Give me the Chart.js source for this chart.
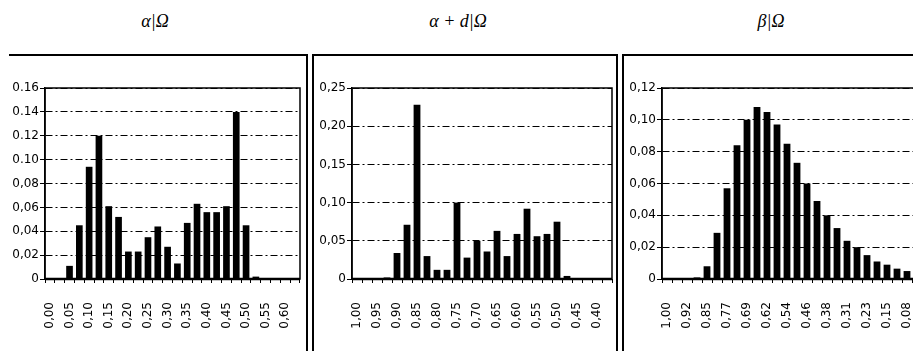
<!DOCTYPE html>
<html>
<head>
<meta charset="utf-8">
<script src="https://cdn.jsdelivr.net/npm/chart.js@4.4.1/dist/chart.umd.min.js"></script>
<style>
  body { margin: 0; width: 913px; height: 351px; background: #fff; position: relative; overflow: hidden; }
  .title { position: absolute; top: 11px; font: italic 18px "Liberation Serif", serif; color: #000; transform: translateX(-50%); white-space: nowrap; }
  .line { position: absolute; background: #000; }
  canvas { position: absolute; }
</style>
</head>
<body>
<div class="title" style="left:155px">α|Ω</div>
<div class="title" style="left:458px">α + d|Ω</div>
<div class="title" style="left:771px">β|Ω</div>

<div class="line" style="left:9px;top:54px;width:299px;height:2px"></div>
<div class="line" style="left:306px;top:54px;width:2px;height:297px"></div>
<div class="line" style="left:312px;top:54px;width:2px;height:297px"></div>
<div class="line" style="left:312px;top:54px;width:306px;height:2px"></div>
<div class="line" style="left:616px;top:54px;width:2px;height:297px"></div>
<div class="line" style="left:622px;top:54px;width:2px;height:297px"></div>
<div class="line" style="left:622px;top:54px;width:291px;height:2px"></div>

<canvas id="c1" width="306" height="281" style="left:0;top:70px"></canvas>
<canvas id="c2" width="302" height="281" style="left:314px;top:70px"></canvas>
<canvas id="c3" width="300" height="281" style="left:624px;top:70px"></canvas>

<script>
// ── Data ──────────────────────────────────────────────────────────────────────
const cats1 = ['0.000','0.025','0.050','0.075','0.100','0.125','0.150','0.175','0.200','0.225','0.250','0.275','0.300',
               '0.325','0.350','0.375','0.400','0.425','0.450','0.475','0.500','0.525','0.550','0.575','0.600','0.625'];
const vals1 = [0, 0, 0.011, 0.045, 0.094, 0.120, 0.061, 0.052, 0.023, 0.023, 0.035, 0.044, 0.027,
               0.013, 0.047, 0.063, 0.056, 0.056, 0.061, 0.140, 0.045, 0.002, 0, 0, 0, 0];
const xLabels1 = ['0,00','0,05','0,10','0,15','0,20','0,25','0,30','0,35','0,40','0,45','0,50','0,55','0,60'];
const yTicks1  = [0, 0.02, 0.04, 0.06, 0.08, 0.10, 0.12, 0.14, 0.16];
const yLabels1 = ['0','0,02','0,04','0,06','0,08','0.10','0.12','0.14','0.16'];

const cats2 = ['1.000','0.975','0.950','0.925','0.900','0.875','0.850','0.825','0.800','0.775','0.750','0.725','0.700',
               '0.675','0.650','0.625','0.600','0.575','0.550','0.525','0.500','0.475','0.450','0.425','0.400','0.375'];
const vals2 = [0, 0, 0, 0.002, 0.034, 0.071, 0.228, 0.030, 0.012, 0.012, 0.100, 0.028, 0.050,
               0.036, 0.063, 0.030, 0.059, 0.092, 0.056, 0.059, 0.075, 0.004, 0, 0, 0, 0];
const xLabels2 = ['1,00','0,95','0,90','0,85','0,80','0,75','0,70','0,65','0,60','0,55','0,50','0,45','0,40'];
const yTicks2  = [0, 0.05, 0.10, 0.15, 0.20, 0.25];
const yLabels2 = ['0','0,05','0,10','0,15','0,20','0,25'];

const cats3 = ['1.000','0.962','0.923','0.885','0.846','0.808','0.769','0.731','0.692','0.654','0.615','0.577','0.538',
               '0.500','0.462','0.423','0.385','0.346','0.308','0.269','0.231','0.192','0.154','0.115','0.077','0.038'];
const vals3 = [0, 0, 0, 0.001, 0.008, 0.029, 0.057, 0.084, 0.100, 0.108, 0.105, 0.097, 0.085,
               0.073, 0.060, 0.049, 0.040, 0.032, 0.024, 0.020, 0.015, 0.011, 0.009, 0.0065, 0.005, 0.004];
const xLabels3 = ['1,00','0,92','0,85','0,77','0,69','0,62','0,54','0,46','0,38','0,31','0,23','0,15','0,08'];
const yTicks3  = [0, 0.02, 0.04, 0.06, 0.08, 0.10, 0.12];
const yLabels3 = ['0','0,02','0,04','0,06','0,08','0,10','0,12'];

Chart.defaults.font.family = '"DejaVu Sans", sans-serif';
Chart.defaults.font.size = 12;
Chart.defaults.color = '#000';

// solid frame round the plot area + heavy baseline
const framePlugin = {
    id: 'frame',
    afterDraw(chart) {
        const { ctx, chartArea: a } = chart;
        ctx.save();
        ctx.strokeStyle = '#000';
        ctx.lineWidth = 1.5;
        ctx.strokeRect(a.left, a.top, a.right - a.left, a.bottom - a.top);
        ctx.lineWidth = 2.5;
        ctx.beginPath();
        ctx.moveTo(a.left, a.bottom);
        ctx.lineTo(a.right, a.bottom);
        ctx.stroke();
        ctx.restore();
    }
};

function makeChart(id, cats, vals, xLabels, yTicks, yLabels, yWidth, padRight) {
    const yMax = yTicks[yTicks.length - 1];
    return new Chart(document.getElementById(id), {
        type: 'bar',
        data: {
            labels: cats,
            datasets: [{
                data: vals,
                backgroundColor: '#000',
                borderWidth: 0,
                barPercentage: 0.68,
                categoryPercentage: 1.0,
            }],
        },
        options: {
            responsive: false,
            animation: false,
            layout: { padding: { top: 18, right: padRight, left: 0, bottom: 0 } },
            plugins: { legend: { display: false }, tooltip: { enabled: false } },
            scales: {
                x: {
                    grid: { display: true, drawOnChartArea: false, tickLength: 4, color: '#000', lineWidth: 1 },
                    border: { display: false },
                    ticks: {
                        autoSkip: false,
                        minRotation: 90,
                        maxRotation: 90,
                        padding: 19,
                        callback: (v, i) => (i % 2 === 0 ? xLabels[i / 2] : ''),
                    },
                    afterFit: (s) => { s.height = 72; s.paddingLeft = 0; s.paddingRight = 0; },
                },
                y: {
                    min: 0,
                    max: yMax,
                    grid: { color: '#000', lineWidth: 1, tickLength: 5, tickBorderDash: [] },
                    border: { display: true, color: '#000', width: 1.5, dash: [7, 3, 2, 3] },
                    ticks: {
                        padding: 1,
                        callback: (v, i) => yLabels[i],
                    },
                    afterBuildTicks: (s) => { s.ticks = yTicks.map(v => ({ value: v })); },
                    afterFit: (s) => { s.width = yWidth; },
                },
            },
        },
        plugins: [framePlugin],
    });
}

makeChart('c1', cats1, vals1, xLabels1, yTicks1, yLabels1, 45, 6);
makeChart('c2', cats2, vals2, xLabels2, yTicks2, yLabels2, 38, 4);
makeChart('c3', cats3, vals3, xLabels3, yTicks3, yLabels3, 38, 2);
</script>
</body>
</html>
